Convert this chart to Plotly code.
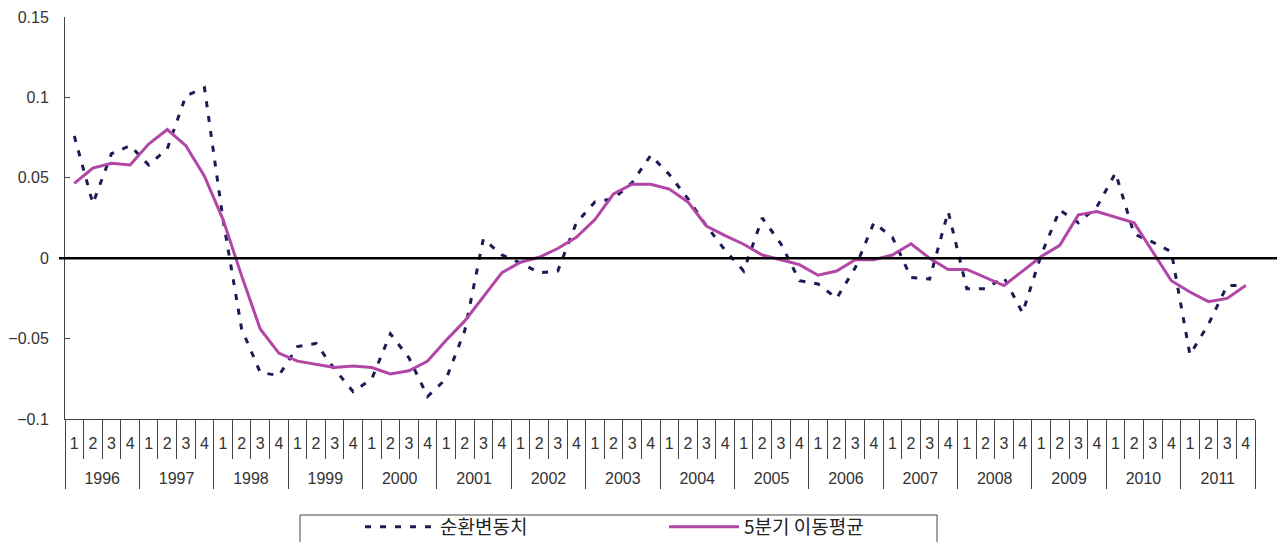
import plotly.graph_objects as go

# Quarterly axis: 1996Q1 .. 2011Q4
years = [str(y) for y in range(1996, 2012)]
quarters = ["1", "2", "3", "4"]

# 순환변동치 (cyclical component)
cyclical = [
    0.076, 0.034, 0.065, 0.070,     # 1996
    0.058, 0.068, 0.101, 0.106,     # 1997
    0.024, -0.044, -0.071, -0.073,  # 1998
    -0.055, -0.053, -0.069, -0.083, # 1999
    -0.075, -0.047, -0.062, -0.086, # 2000
    -0.075, -0.045, 0.012, 0.002,   # 2001
    -0.003, -0.009, -0.008, 0.022,  # 2002
    0.035, 0.037, 0.047, 0.064,     # 2003
    0.052, 0.037, 0.020, 0.005,     # 2004
    -0.008, 0.025, 0.009, -0.014,   # 2005
    -0.016, -0.025, -0.006, 0.022,  # 2006
    0.013, -0.012, -0.013, 0.029,   # 2007
    -0.019, -0.019, -0.012, -0.034, # 2008
    0.002, 0.030, 0.022, 0.032,     # 2009
    0.053, 0.015, 0.010, 0.004,     # 2010
    -0.060, -0.041, -0.017, -0.017, # 2011
]

# 5분기 이동평균 (5-quarter moving average)
moving_avg = [
    0.0465, 0.056, 0.059, 0.058,     # 1996
    0.071, 0.080, 0.070, 0.051,      # 1997
    0.024, -0.011, -0.044, -0.059,   # 1998
    -0.064, -0.066, -0.068, -0.067,  # 1999
    -0.068, -0.072, -0.070, -0.064,  # 2000
    -0.051, -0.039, -0.024, -0.009,  # 2001
    -0.0025, 0.0006, 0.006, 0.013,   # 2002
    0.024, 0.040, 0.046, 0.046,      # 2003
    0.043, 0.035, 0.020, 0.014,      # 2004
    0.0087, 0.002, -0.001, -0.004,   # 2005
    -0.0106, -0.008, -0.001, -0.001, # 2006
    0.002, 0.009, 0.000, -0.007,     # 2007
    -0.007, -0.012, -0.017, -0.008,  # 2008
    0.001, 0.008, 0.027, 0.029,      # 2009
    0.0255, 0.022, 0.004, -0.014,    # 2010
    -0.021, -0.027, -0.025, -0.017,  # 2011
]

n_q = len(quarters)
n = len(years) * n_q
idx = list(range(n))                                  # one slot per quarter
qtr_labels = [q for _ in years for q in quarters]
year_centers = [i * n_q + (n_q - 1) / 2 for i in range(len(years))]
x_range = [-0.5, n - 0.5]

NAVY = "#1c1c55"
MAGENTA = "#b146a7"
AXIS = "#444444"
TEXT = "#333333"
TICK_FONT = dict(family="Liberation Sans, Arial, sans-serif", size=16, color=TEXT)

fig = go.Figure()
fig.add_trace(go.Scatter(
    x=idx, y=cyclical, mode="lines", name="순환변동치",
    line=dict(color=NAVY, width=3, dash="6px,9px"),
    xaxis="x", yaxis="y",
))
fig.add_trace(go.Scatter(
    x=idx, y=moving_avg, mode="lines", name="5분기 이동평균",
    line=dict(color=MAGENTA, width=3),
    xaxis="x2", yaxis="y",
))

# zero reference line running past the right end of the axis
fig.add_shape(type="line", xref="paper", yref="y",
              x0=-0.005, x1=1.02, y0=0, y1=0,
              line=dict(color="black", width=2.5))

# frame around the legend (open at the bottom edge of the page)
fig.add_shape(type="rect", xref="paper", yref="paper",
              x0=0.1975, x1=0.7328, y0=-0.2388, y1=-0.34,
              line=dict(color=AXIS, width=1), fillcolor="rgba(0,0,0,0)")

fig.update_layout(
    width=1277, height=542,
    margin=dict(l=65, r=22, t=17, b=123, autoexpand=False),
    paper_bgcolor="white", plot_bgcolor="white",
    font=dict(family="Liberation Sans, Arial, sans-serif", size=16, color=TEXT),
    showlegend=True,
    legend=dict(
        orientation="h", x=0.1975, xanchor="left", y=-0.2214, yanchor="top",
        borderwidth=0, bgcolor="rgba(0,0,0,0)",
        font=dict(family="Noto Sans CJK KR, sans-serif", size=19, color="#222222"),
        indentation=60, entrywidth=159, itemwidth=70,
    ),
    # quarter row: labels centred on each quarter, ticks on the boundaries
    xaxis=dict(
        range=x_range, showline=True, linecolor=AXIS, linewidth=1,
        showgrid=False, zeroline=False,
        tickmode="array", tickvals=idx, ticktext=qtr_labels,
        ticks="", ticklabelstandoff=10, tickfont=TICK_FONT,
        minor=dict(tickmode="linear", tick0=-0.5, dtick=1,
                   ticks="outside", ticklen=39, tickcolor=AXIS, tickwidth=1,
                   showgrid=False),
    ),
    # year row: labels centred on each year, long ticks between years
    xaxis2=dict(
        range=x_range, overlaying="x", anchor="y", side="bottom",
        showline=False, showgrid=False, zeroline=False,
        tickmode="array", tickvals=year_centers, ticktext=years,
        ticks="", ticklabelstandoff=48, tickfont=TICK_FONT,
        minor=dict(tickmode="linear", tick0=-0.5, dtick=n_q,
                   ticks="outside", ticklen=69, tickcolor=AXIS, tickwidth=1,
                   showgrid=False),
    ),
    yaxis=dict(
        range=[-0.1, 0.15], dtick=0.05, tick0=0,
        showline=True, linecolor=AXIS, linewidth=1,
        ticks="inside", ticklen=5, tickcolor=AXIS,
        showgrid=False, zeroline=False,
        ticklabelstandoff=12, tickfont=TICK_FONT,
    ),
)

fig.write_html("out.html")
